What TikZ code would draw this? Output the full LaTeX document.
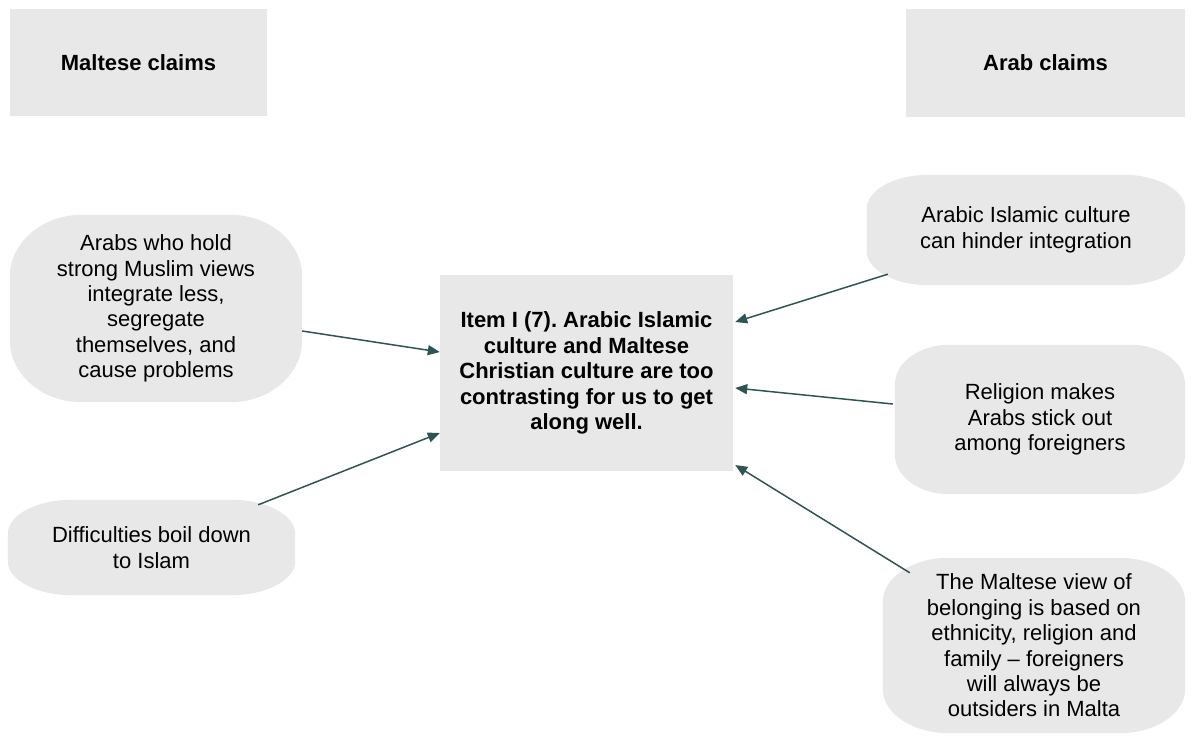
\documentclass[tikz,border=0pt]{standalone}
\usepackage{fontspec}
\setmainfont{Liberation Sans}
\frenchspacing
\usetikzlibrary{arrows.meta}
\pgfdeclarelayer{background}
\pgfsetlayers{background,main}
\definecolor{panel}{HTML}{E8E8E8}
\definecolor{link}{HTML}{2F5454}

% Soft panel behind a node: rectangle with elliptical corners (#2 x #3)
\newcommand\softpanel[3]{%
  \fill[panel] ([xshift=#2]#1.north west) -- ([xshift=-#2]#1.north east)
    arc[start angle=90, end angle=0, x radius=#2, y radius=#3]
    -- ([yshift=#3]#1.south east)
    arc[start angle=0, end angle=-90, x radius=#2, y radius=#3]
    -- ([xshift=#2]#1.south west)
    arc[start angle=270, end angle=180, x radius=#2, y radius=#3]
    -- ([yshift=-#3]#1.north west)
    arc[start angle=180, end angle=90, x radius=#2, y radius=#3] -- cycle;}

\begin{document}
\begin{tikzpicture}[x=1pt, y=1pt,
  txt/.style={font=\fontsize{22}{25.4}\selectfont, align=center, inner sep=0pt, text=black},
  boldtxt/.style={txt, font=\fontsize{22}{25.4}\selectfont\bfseries},
  panelbox/.style={boldtxt, fill=panel},
  claim/.style={txt},
  link/.style={draw=link, line width=1.5pt, -{Triangle[length=12pt, width=10pt]}}]

\useasboundingbox (0,0) rectangle (1193,740);

% column headers
\node[panelbox, minimum width=257, minimum height=107] (hm) at (138.5,677.5) {Maltese claims};
\node[panelbox, minimum width=279, minimum height=108] (ha) at (1045.5,677) {Arab claims};

% central item
\node[panelbox, minimum width=293, minimum height=196] (c) at (586.5,367)
  {Item I (7). Arabic Islamic\\culture and Maltese\\Christian culture are too\\contrasting for us to get\\along well.};

% Maltese claims
\node[claim, minimum width=292, minimum height=187] (l1) at (156,431.5)
  {Arabs who hold\\strong Muslim views\\integrate less,\\segregate\\themselves, and\\cause problems};
\node[claim, minimum width=287, minimum height=95] (l2) at (151.5,192.5)
  {Difficulties boil down\\to Islam};

% Arab claims
\node[claim, minimum width=318, minimum height=110] (r1) at (1026,510)
  {Arabic Islamic culture\\can hinder integration};
\node[claim, minimum width=290, minimum height=149] (r2) at (1040,320.5)
  {Religion makes\\Arabs stick out\\among foreigners};
\node[claim, minimum width=302, minimum height=175] (r3) at (1034,94.5)
  {The Maltese view of\\belonging is based on\\ethnicity, religion and\\family – foreigners\\will always be\\outsiders in Malta};

\begin{pgfonlayer}{background}
  \softpanel{l1}{72pt}{62pt}
  \softpanel{l2}{64pt}{34pt}
  \softpanel{r1}{62pt}{34pt}
  \softpanel{r2}{54pt}{40pt}
  \softpanel{r3}{66pt}{44pt}
\end{pgfonlayer}

% connectors into the central item
\draw[link] ([yshift=-22.5pt]l1.east) -- ([yshift=21pt]c.west);
\draw[link] ([xshift=-37pt, yshift=-5pt]l2.north east) -- ([yshift=-60pt]c.west);
\draw[link] ([xshift=21pt, yshift=11pt]r1.south west) -- ([xshift=2pt, yshift=51pt]c.east);
\draw[link] ([xshift=-2pt, yshift=15.5pt]r2.west) -- ([xshift=2pt, yshift=-15pt]c.east);
\draw[link] ([xshift=27pt, yshift=-15pt]r3.north west) -- ([xshift=2pt, yshift=-92pt]c.east);

\end{tikzpicture}
\end{document}
